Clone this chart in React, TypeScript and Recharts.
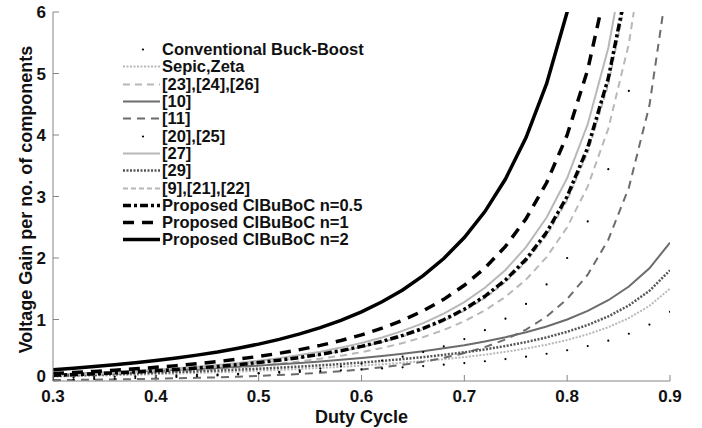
import React from 'react';
import { LineChart, Line, XAxis, YAxis, Legend } from 'recharts';

const dutyCycle = [0.3, 0.32, 0.34, 0.36, 0.38, 0.4, 0.42, 0.44, 0.46, 0.48, 0.5, 0.52, 0.54, 0.56, 0.58, 0.6, 0.62, 0.64, 0.66, 0.68, 0.7, 0.72, 0.74, 0.76, 0.78, 0.8, 0.82, 0.84, 0.86, 0.88, 0.9];
const xTicks = [0.3, 0.4, 0.5, 0.6, 0.7, 0.8, 0.9];
const yTicks = [0, 1, 2, 3, 4, 5, 6];

const buckBoost = [0.054, 0.059, 0.064, 0.07, 0.077, 0.083, 0.091, 0.098, 0.106, 0.115, 0.125, 0.135, 0.147, 0.159, 0.173, 0.188, 0.204, 0.222, 0.243, 0.266, 0.292, 0.321, 0.356, 0.396, 0.443, 0.5, 0.569, 0.656, 0.768, 0.917, 1.125];
const sepicZeta = [0.071, 0.078, 0.086, 0.094, 0.102, 0.111, 0.121, 0.131, 0.142, 0.154, 0.167, 0.181, 0.196, 0.212, 0.23, 0.25, 0.272, 0.296, 0.324, 0.354, 0.389, 0.429, 0.474, 0.528, 0.591, 0.667, 0.759, 0.875, 1.024, 1.222, 1.5];
const ref232426 = [0.077, 0.087, 0.098, 0.11, 0.124, 0.139, 0.156, 0.175, 0.197, 0.222, 0.25, 0.282, 0.319, 0.362, 0.411, 0.469, 0.537, 0.617, 0.714, 0.83, 0.972, 1.148, 1.368, 1.649, 2.015, 2.5, 3.164, 4.102, 5.485, 7.639, null];
const ref10 = [0.107, 0.118, 0.129, 0.141, 0.153, 0.167, 0.181, 0.196, 0.213, 0.231, 0.25, 0.271, 0.293, 0.318, 0.345, 0.375, 0.408, 0.444, 0.485, 0.531, 0.583, 0.643, 0.712, 0.792, 0.886, 1.0, 1.139, 1.313, 1.536, 1.833, 2.25];
const ref11 = [0.015, 0.018, 0.022, 0.026, 0.031, 0.037, 0.044, 0.051, 0.06, 0.071, 0.083, 0.098, 0.115, 0.135, 0.159, 0.188, 0.222, 0.263, 0.314, 0.376, 0.454, 0.551, 0.675, 0.836, 1.048, 1.333, 1.729, 2.297, 3.145, 4.482, 6.75];
const ref2025 = [0.023, 0.028, 0.033, 0.04, 0.047, 0.056, 0.066, 0.077, 0.091, 0.107, 0.125, 0.147, 0.172, 0.202, 0.238, 0.281, 0.333, 0.395, 0.471, 0.564, 0.681, 0.827, 1.013, 1.254, 1.571, 2.0, 2.594, 3.445, 4.717, null, null];
const ref27 = [0.101, 0.114, 0.129, 0.145, 0.163, 0.183, 0.206, 0.232, 0.26, 0.293, 0.33, 0.372, 0.421, 0.477, 0.543, 0.619, 0.708, 0.815, 0.942, 1.096, 1.283, 1.515, 1.806, 2.177, 2.659, 3.3, 4.176, 5.414, 7.24, null, null];
const ref29 = [0.086, 0.094, 0.103, 0.113, 0.123, 0.133, 0.145, 0.157, 0.17, 0.185, 0.2, 0.217, 0.235, 0.255, 0.276, 0.3, 0.326, 0.356, 0.388, 0.425, 0.467, 0.514, 0.569, 0.633, 0.709, 0.8, 0.911, 1.05, 1.229, 1.467, 1.8];
const ref92122 = [0.09, 0.102, 0.115, 0.129, 0.145, 0.163, 0.184, 0.206, 0.232, 0.261, 0.294, 0.332, 0.375, 0.425, 0.483, 0.551, 0.631, 0.726, 0.839, 0.976, 1.143, 1.35, 1.609, 1.94, 2.369, 2.94, 3.72, 4.823, 6.45, null, null];
const propN05 = [0.092, 0.104, 0.117, 0.132, 0.148, 0.167, 0.187, 0.21, 0.237, 0.266, 0.3, 0.339, 0.383, 0.434, 0.493, 0.563, 0.644, 0.741, 0.856, 0.996, 1.167, 1.378, 1.642, 1.979, 2.417, 3.0, 3.796, 4.922, 6.582, null, null];
const propN1 = [0.122, 0.138, 0.156, 0.176, 0.198, 0.222, 0.25, 0.281, 0.316, 0.355, 0.4, 0.451, 0.51, 0.579, 0.658, 0.75, 0.859, 0.988, 1.142, 1.328, 1.556, 1.837, 2.189, 2.639, 3.223, 4.0, 5.062, 6.563, null, null, null];
const propN2 = [0.184, 0.208, 0.234, 0.264, 0.297, 0.333, 0.375, 0.421, 0.473, 0.533, 0.6, 0.677, 0.766, 0.868, 0.986, 1.125, 1.288, 1.481, 1.713, 1.992, 2.333, 2.755, 3.284, 3.958, 4.835, 6.0, 7.593, null, null, null, null];

const seriesNames = ['Conventional Buck-Boost', 'Sepic,Zeta', '[23],[24],[26]', '[10]', '[11]', '[20],[25]', '[27]', '[29]', '[9],[21],[22]', 'Proposed CIBuBoC n=0.5', 'Proposed CIBuBoC n=1', 'Proposed CIBuBoC n=2'];
const seriesValues = [buckBoost, sepicZeta, ref232426, ref10, ref11, ref2025, ref27, ref29, ref92122, propN05, propN1, propN2];

const LIGHT = '#b8b8b8';
const DARK = '#6c6c6c';
const styles = [
  { color: '#000', width: 0, dash: undefined, dots: true },
  { color: LIGHT, width: 2, dash: '2 1.5', dots: false },
  { color: LIGHT, width: 2, dash: '7 5', dots: false },
  { color: DARK, width: 2, dash: undefined, dots: false },
  { color: DARK, width: 2, dash: '8 6', dots: false },
  { color: '#000', width: 0, dash: undefined, dots: true },
  { color: LIGHT, width: 2, dash: undefined, dots: false },
  { color: '#555', width: 2.5, dash: '2 1.5', dots: false },
  { color: LIGHT, width: 2, dash: '5 3', dots: false },
  { color: '#000', width: 3.5, dash: '8 3 3 3', dots: false },
  { color: '#000', width: 3.5, dash: '11 8', dots: false },
  { color: '#000', width: 3.5, dash: undefined, dots: false },
];

const data = dutyCycle.map((d, i) => {
  const row: Record<string, number | null> = { d };
  seriesValues.forEach((arr, k) => { row['s' + k] = arr[i]; });
  return row;
});

const FONT = '"Liberation Sans", Arial, Helvetica, sans-serif';
const AXIS = '#858585';

const XTickBottom = (props: any) => {
  const { x, y, payload } = props;
  return (
    <g>
      <line x1={x} x2={x} y1={y} y2={y - 6} stroke={AXIS} />
      <text x={x} y={y + 21} textAnchor="middle" fontFamily={FONT} fontWeight="bold" fontSize={17} fill="#111">
        {Number(payload.value).toFixed(1)}
      </text>
    </g>
  );
};
const XTickTop = (props: any) => {
  const { x, y } = props;
  return <line x1={x} x2={x} y1={y} y2={y + 6} stroke={AXIS} />;
};
const YTickLeft = (props: any) => {
  const { x, y, payload } = props;
  const lift = payload.value === 0 ? 1 : 6;
  return (
    <g>
      <line x1={x} x2={x + 6} y1={y} y2={y} stroke={AXIS} />
      <text x={x - 7} y={y + lift} textAnchor="end" fontFamily={FONT} fontWeight="bold" fontSize={17} fill="#111">
        {payload.value}
      </text>
    </g>
  );
};
const YTickRight = (props: any) => {
  const { x, y } = props;
  return <line x1={x} x2={x - 6} y1={y} y2={y} stroke={AXIS} />;
};

const LegendBox = () => (
  <div style={{ fontFamily: FONT, fontWeight: 'bold', fontSize: 16.5, color: '#111' }}>
    {seriesNames.map((name, i) => {
      const s = styles[i];
      return (
        <div key={name} style={{ display: 'flex', alignItems: 'center', height: 17.3, whiteSpace: 'nowrap' }}>
          <svg width={42} height={17} style={{ flex: 'none' }}>
            {s.dots ? (
              <circle cx={23} cy={8.5} r={1.1} fill={s.color} />
            ) : (
              <line x1={3} x2={40} y1={8.5} y2={8.5} stroke={s.color} strokeWidth={s.width} strokeDasharray={s.dash} />
            )}
          </svg>
          <span style={{ lineHeight: '17px' }}>{name}</span>
        </div>
      );
    })}
  </div>
);

export default function App() {
  return (
    <div style={{ position: 'absolute', left: 0, top: 0, width: 702, height: 428, background: '#fff' }}>
      <LineChart width={702} height={428} data={data} margin={{ top: 12, right: 32, bottom: 0, left: 13 }}>
        <XAxis
          dataKey="d"
          type="number"
          domain={[0.3, 0.9]}
          ticks={xTicks}
          allowDataOverflow
          height={47}
          tickSize={0}
          tickMargin={0}
          tickLine={false}
          stroke={AXIS}
          tick={<XTickBottom />}
          interval={0}
          label={{
            content: (p: any) => {
              const vb = p.viewBox;
              return (
                <text x={vb.x + vb.width / 2} y={vb.y + 42} textAnchor="middle" fontFamily={FONT} fontWeight="bold" fontSize={18} fill="#111">
                  Duty Cycle
                </text>
              );
            },
          }}
        />
        <XAxis
          xAxisId="top"
          orientation="top"
          dataKey="d"
          type="number"
          domain={[0.3, 0.9]}
          ticks={xTicks}
          allowDataOverflow
          height={0}
          tickSize={0}
          tickMargin={0}
          tickLine={false}
          stroke={AXIS}
          tick={<XTickTop />}
          interval={0}
        />
        <YAxis
          type="number"
          domain={[0, 6]}
          ticks={yTicks}
          allowDataOverflow
          width={40}
          tickSize={0}
          tickMargin={0}
          tickLine={false}
          stroke={AXIS}
          tick={<YTickLeft />}
          interval={0}
          label={{
            content: (p: any) => {
              const vb = p.viewBox;
              const cx = vb.x + 13;
              const cy = vb.y + vb.height / 2 + 3;
              return (
                <text x={cx} y={cy} transform={`rotate(-90 ${cx} ${cy})`} textAnchor="middle" dominantBaseline="central" fontFamily={FONT} fontWeight="bold" fontSize={18} fill="#111">
                  Voltage Gain per no. of components
                </text>
              );
            },
          }}
        />
        <YAxis
          yAxisId="right"
          orientation="right"
          type="number"
          domain={[0, 6]}
          ticks={yTicks}
          allowDataOverflow
          width={0}
          tickSize={0}
          tickMargin={0}
          tickLine={false}
          stroke={AXIS}
          tick={<YTickRight />}
          interval={0}
        />
        {styles.map((s, i) => (
          <Line
            key={i}
            type="linear"
            dataKey={'s' + i}
            name={seriesNames[i]}
            stroke={s.dots ? 'none' : s.color}
            strokeWidth={s.width}
            strokeDasharray={s.dash}
            dot={s.dots ? { r: 1.1, fill: s.color, stroke: 'none' } : false}
            activeDot={false}
            isAnimationActive={false}
            connectNulls={false}
          />
        ))}
        <Legend
          layout="vertical"
          align="center"
          verticalAlign="middle"
          wrapperStyle={{ position: 'absolute', left: 120, top: 41, width: 280 }}
          content={() => <LegendBox />}
        />
      </LineChart>
    </div>
  );
}
